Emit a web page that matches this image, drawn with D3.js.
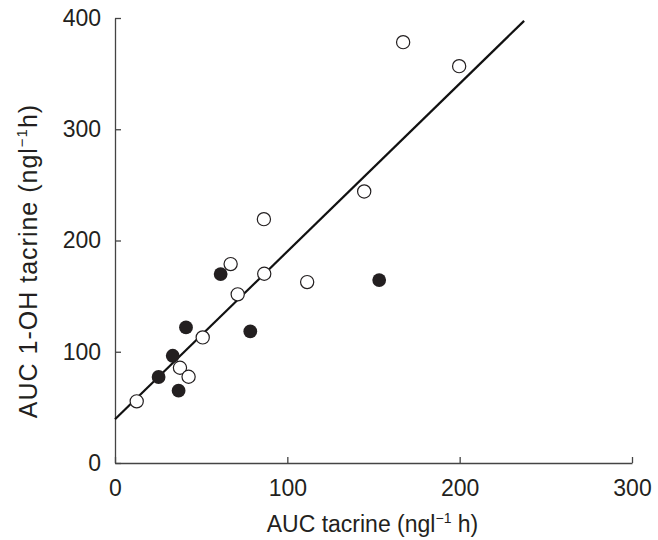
<!DOCTYPE html>
<html>
<head>
<meta charset="utf-8">
<script src="https://cdn.jsdelivr.net/npm/d3@7"></script>
<style>
  body { margin: 0; background: #fff; }
  text { font-family: "Liberation Sans", Arial, sans-serif; fill: #231f20; }
</style>
</head>
<body>
<div id="chart"></div>
<script>
// open circles
var openX = [12.6, 37.7, 42.7, 50.9, 71.2, 67.1, 86.6, 86.4, 111.5, 144.6, 167.2, 199.7];
var openY = [55.4, 85.6, 77.5, 112.9, 151.6, 178.8, 170.1, 219.2, 162.6, 244.1, 378.3, 356.7];
// filled circles
var filledX = [25.3, 33.5, 36.9, 41.2, 61.3, 78.5, 153.3];
var filledY = [77.3, 96.4, 65.0, 121.9, 169.8, 118.3, 164.4];
// regression line end points
var lineX = [0, 237.4];
var lineY = [39.3, 397.4];
var xTicks = [0, 100, 200, 300];
var yTicks = [0, 100, 200, 300, 400];

var margin = { top: 18, right: 26, bottom: 77, left: 115 },
  width = 658 - margin.left - margin.right,
  height = 540 - margin.top - margin.bottom;

var svg = d3.select("#chart")
  .append("svg")
  .attr("width", 658)
  .attr("height", 540)
  .append("g")
  .attr("transform", "translate(" + margin.left + "," + margin.top + ")");

var x = d3.scaleLinear().domain([0, 300]).range([0, width]);
var y = d3.scaleLinear().domain([0, 400]).range([height, 0]);

// x axis, ticks pointing inward
var xAxis = svg.append("g")
  .attr("transform", "translate(0," + height + ")")
  .call(d3.axisBottom(x).tickValues(xTicks).tickSizeInner(-6).tickSizeOuter(0).tickPadding(12));
// y axis
var yAxis = svg.append("g")
  .call(d3.axisLeft(y).tickValues(yTicks).tickSizeInner(-6).tickSizeOuter(0).tickPadding(14));

[xAxis, yAxis].forEach(function (a) {
  a.select(".domain").attr("stroke", "#444").attr("stroke-width", 1.3);
  a.selectAll(".tick line").attr("stroke", "#444").attr("stroke-width", 1.3);
  a.selectAll(".tick text").style("font-size", "23px").attr("fill", "#231f20");
});
xAxis.selectAll(".tick text").attr("dy", "0.9em");

// regression line
var lineData = lineX.map(function (d, i) { return { x: d, y: lineY[i] }; });
svg.append("path")
  .datum(lineData)
  .attr("d", d3.line().x(function (d) { return x(d.x); }).y(function (d) { return y(d.y); }))
  .attr("stroke", "#111")
  .attr("stroke-width", 2.2)
  .attr("fill", "none");

// open points
svg.selectAll(".open")
  .data(openX.map(function (d, i) { return { x: d, y: openY[i] }; }))
  .enter().append("circle")
  .attr("class", "open")
  .attr("cx", function (d) { return x(d.x); })
  .attr("cy", function (d) { return y(d.y); })
  .attr("r", 6.6)
  .attr("fill", "#fff")
  .attr("stroke", "#231f20")
  .attr("stroke-width", 1.2);

// filled points
svg.selectAll(".filled")
  .data(filledX.map(function (d, i) { return { x: d, y: filledY[i] }; }))
  .enter().append("circle")
  .attr("class", "filled")
  .attr("cx", function (d) { return x(d.x); })
  .attr("cy", function (d) { return y(d.y); })
  .attr("r", 6.9)
  .attr("fill", "#231f20");

// axis titles
var xt = svg.append("text")
  .attr("x", width / 2 - 1)
  .attr("y", height + 69)
  .attr("text-anchor", "middle")
  .style("font-size", "23px");
xt.append("tspan").text("AUC tacrine (ngl");
xt.append("tspan").attr("dy", -9).style("font-size", "14px").text("\u22121");
xt.append("tspan").attr("dy", 9).text(" h)");

var yt = svg.append("text")
  .attr("transform", "translate(" + (-78) + "," + (261 - margin.top) + ") rotate(-90)")
  .attr("text-anchor", "middle")
  .style("font-size", "25px")
  .style("letter-spacing", "1px");
yt.append("tspan").text("AUC 1-OH tacrine (ngl");
yt.append("tspan").attr("dy", -10).style("font-size", "15px").text("\u22121");
yt.append("tspan").attr("dy", 10).text("h)");
</script>
</body>
</html>
